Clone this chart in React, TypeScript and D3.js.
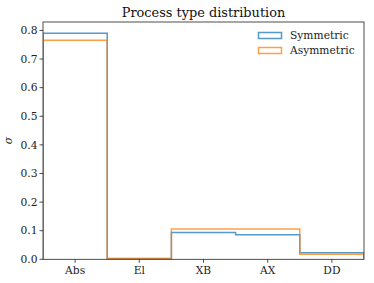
import React from "react";
import * as d3 from "d3";

const categories = ["Abs", "El", "XB", "AX", "DD"];
const symmetric = [0.79, 0.003, 0.094, 0.086, 0.023];
const asymmetric = [0.766, 0.002, 0.106, 0.106, 0.018];
const yTicks = [0, 0.1, 0.2, 0.3, 0.4, 0.5, 0.6, 0.7, 0.8];
const seriesNames = ["Symmetric", "Asymmetric"];
const colors = ["#1f77b4", "#ff7f0e"];

const W = 374, H = 283;
const m = { left: 43, right: 364, top: 22, bottom: 259.3 };
const FONT = "DejaVu Serif";
const FS = 10.7;

export default function App() {
  const x = d3.scaleLinear().domain([-0.5, categories.length - 0.5]).range([m.left, m.right]);
  const yMax = d3.max([...symmetric, ...asymmetric])! * 1.05;
  const y = d3.scaleLinear().domain([0, yMax]).range([m.bottom, m.top]);

  const stepPath = (vals: number[]) => {
    const pts: [number, number][] = [[-0.5, 0]];
    vals.forEach((v, i) => {
      pts.push([i - 0.5, v]);
      pts.push([i + 0.5, v]);
    });
    pts.push([vals.length - 0.5, 0]);
    return d3.line().x((d) => x(d[0])).y((d) => y(d[1]))(pts as any) as string;
  };

  return (
    <svg width={W} height={H} style={{ position: "absolute", left: 0, top: 0 }}>
      <rect width={W} height={H} fill="white" />
      <defs>
        <clipPath id="clip">
          <rect x={m.left} y={m.top} width={m.right - m.left} height={m.bottom - m.top} />
        </clipPath>
      </defs>
      <g clipPath="url(#clip)">
        {[symmetric, asymmetric].map((s, i) => (
          <path key={i} d={stepPath(s)} fill="none" stroke={colors[i]} strokeOpacity={0.75} strokeWidth={1.5} />
        ))}
      </g>
      <rect x={m.left} y={m.top} width={m.right - m.left} height={m.bottom - m.top} fill="none" stroke="#222" strokeWidth={0.8} />
      {yTicks.map((t) => (
        <g key={t} transform={`translate(${m.left},${y(t)})`}>
          <line x1={-3.5} x2={0} stroke="#222" strokeWidth={0.8} />
          <text x={-5.5} dy="0.35em" textAnchor="end" fontFamily={FONT} fontSize={FS} fill="#222">
            {t.toFixed(1)}
          </text>
        </g>
      ))}
      {categories.map((c, i) => (
        <g key={c} transform={`translate(${x(i)},${m.bottom})`}>
          <line y1={0} y2={3.5} stroke="#222" strokeWidth={0.8} />
          <text y={15} textAnchor="middle" fontFamily={FONT} fontSize={FS} fill="#222">
            {c}
          </text>
        </g>
      ))}
      <text x={(m.left + m.right) / 2} y={17} textAnchor="middle" fontFamily={FONT} fontSize={12.9} fill="#111">
        Process type distribution
      </text>
      <text transform={`translate(12,${(m.top + m.bottom) / 2}) rotate(-90)`} textAnchor="middle" fontFamily={FONT} fontStyle="italic" fontSize={FS} fill="#222">
        σ
      </text>
      {seriesNames.map((n, i) => (
        <g key={n} transform={`translate(258.5,${32.5 + i * 15})`}>
          <rect x={0} y={0} width={23} height={6} fill="none" stroke={colors[i]} strokeOpacity={0.75} strokeWidth={1.5} />
          <text x={31.5} y={6.6} fontFamily={FONT} fontSize={FS} fill="#222">
            {n}
          </text>
        </g>
      ))}
    </svg>
  );
}
